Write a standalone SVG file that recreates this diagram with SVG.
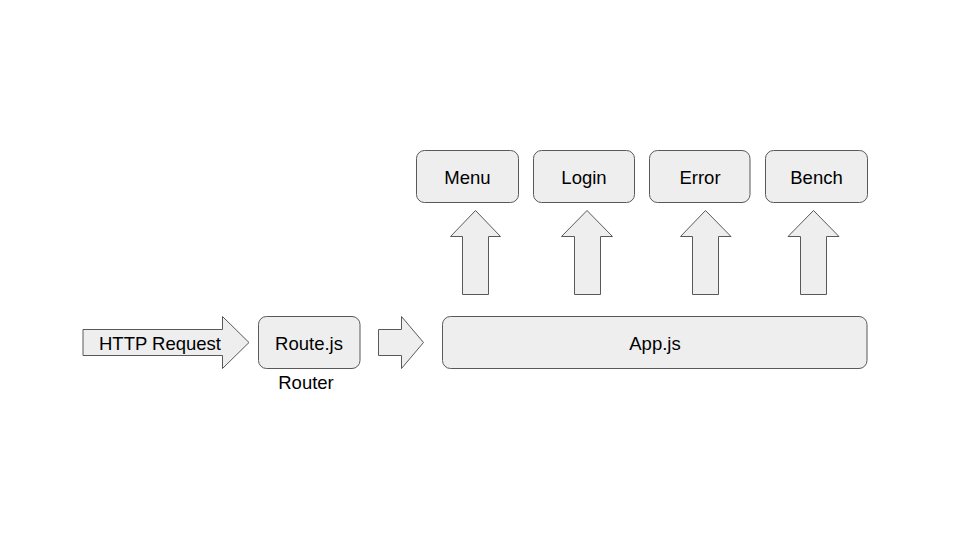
<svg xmlns="http://www.w3.org/2000/svg" width="960" height="540" viewBox="0 0 960 540">
<style>
.box{fill:#eeeeee;stroke:#595959;stroke-width:1}
.arr{fill:#eeeeee;stroke:#595959;stroke-width:1;stroke-linejoin:miter}
text{font-family:"Liberation Sans",Arial,sans-serif;font-size:18.5px;fill:#000;text-anchor:middle}
</style>
<rect width="960" height="540" fill="#fff"/>
<g id="connectors">
<polygon class="arr" points="83,329.5 222.5,329.5 222.5,316.5 249,342.5 222.5,368.5 222.5,355.5 83,355.5"/>
<polygon class="arr" points="378.5,329.5 401.5,329.5 401.5,316.5 423.5,342.5 401.5,368.5 401.5,355.5 378.5,355.5"/>
<polygon class="arr" points="462.5,294.5 462.5,236.5 450.5,236.5 475.5,210.5 500.5,236.5 488.5,236.5 488.5,294.5"/>
<polygon class="arr" points="574.5,294.5 574.5,236.5 561.5,236.5 587,210.5 612.5,236.5 600.5,236.5 600.5,294.5"/>
<polygon class="arr" points="692.5,294.5 692.5,236.5 680.5,236.5 705.5,210.5 731,236.5 718.5,236.5 718.5,294.5"/>
<polygon class="arr" points="800.5,294.5 800.5,236.5 788,236.5 813.5,210.5 839,236.5 826.5,236.5 826.5,294.5"/>
</g>
<g id="http"><text x="160" y="350">HTTP Request</text></g>
<g id="route">
<rect class="box" x="258.5" y="316.5" width="101.5" height="52" rx="8"/>
<text x="309" y="350">Route.js</text>
<text x="306" y="389">Router</text>
</g>
<g id="app">
<rect class="box" x="442.5" y="316.5" width="424.5" height="52" rx="8"/>
<text x="655" y="350">App.js</text>
</g>
<g id="menu">
<rect class="box" x="416.5" y="150.5" width="102" height="52" rx="8"/>
<text x="467.5" y="184">Menu</text>
</g>
<g id="login">
<rect class="box" x="533.5" y="150.5" width="101" height="52" rx="8"/>
<text x="584" y="184">Login</text>
</g>
<g id="error">
<rect class="box" x="649.5" y="150.5" width="100.5" height="52" rx="8"/>
<text x="700" y="184">Error</text>
</g>
<g id="bench">
<rect class="box" x="765.5" y="150.5" width="102" height="52" rx="8"/>
<text x="816.5" y="184">Bench</text>
</g>
</svg>
